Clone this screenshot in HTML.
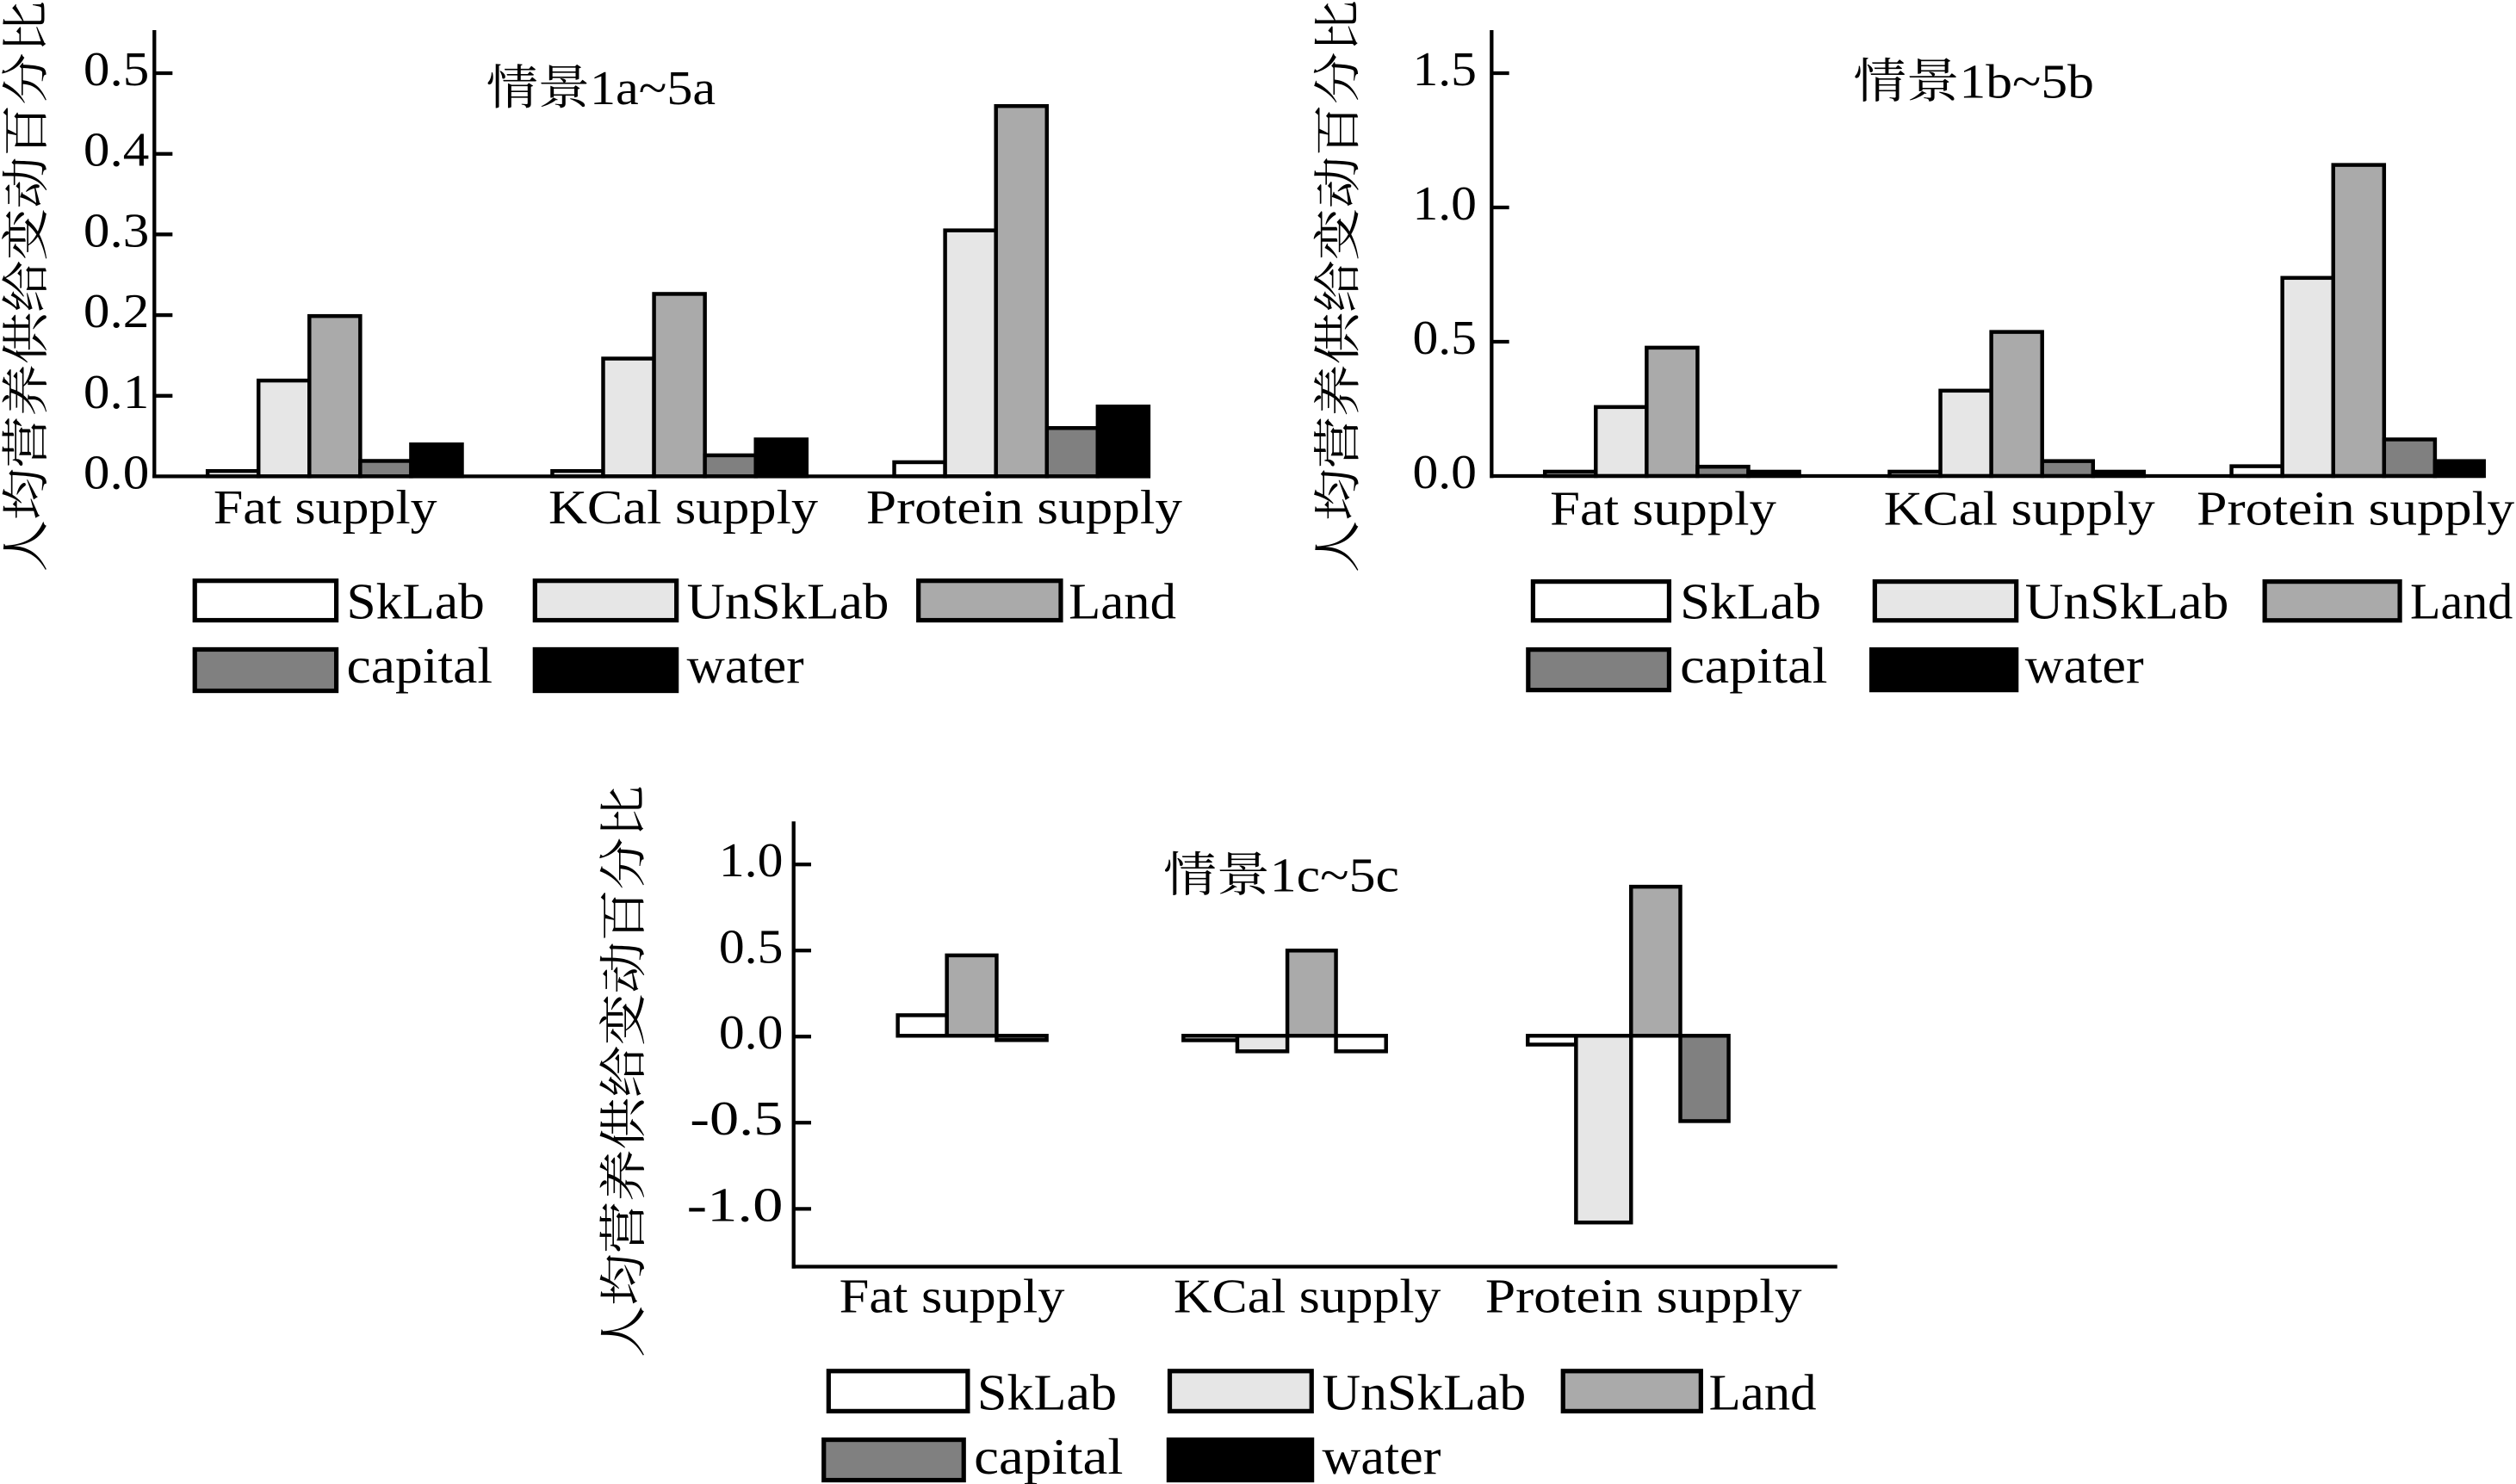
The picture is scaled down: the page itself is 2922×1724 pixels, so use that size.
<!DOCTYPE html>
<html><head><meta charset="utf-8"><style>
html,body{margin:0;padding:0;background:#fff;}
svg{display:block;}
text{font-family:"Liberation Serif","Noto Serif CJK SC",serif;fill:#000;}
.t{font-size:30px;}
.x{font-size:30px;}
.l{font-size:32px;}
.ti{font-size:30px;}
.yl{font-size:30px;font-family:"Noto Serif CJK SC","Liberation Serif",serif;}
.ax{stroke:#000;stroke-width:2.3;fill:none;}
.b rect{stroke:#000;stroke-width:2.4;}
.lg{stroke:#000;stroke-width:2.8;}
</style></head><body>
<svg width="2922" height="1724" viewBox="0 0 1568 925" preserveAspectRatio="none" xmlns="http://www.w3.org/2000/svg">
<rect x="0" y="0" width="1568" height="925" fill="#fff"/>

<!-- ============ Chart A ============ -->
<g class="b">
<rect x="129.4" y="293.6" width="31.7" height="3.3" fill="#fff"/>
<rect x="161.1" y="237.2" width="31.7" height="59.7" fill="#e6e6e6"/>
<rect x="192.8" y="197" width="31.7" height="99.9" fill="#aaa"/>
<rect x="224.5" y="287.3" width="31.7" height="9.6" fill="#808080"/>
<rect x="256.2" y="277" width="31.7" height="19.9" fill="#000"/>
<rect x="344.2" y="293.6" width="31.7" height="3.3" fill="#fff"/>
<rect x="375.9" y="223.5" width="31.7" height="73.4" fill="#e6e6e6"/>
<rect x="407.6" y="183.2" width="31.7" height="113.7" fill="#aaa"/>
<rect x="439.3" y="283.8" width="31.7" height="13.1" fill="#808080"/>
<rect x="471" y="273.9" width="31.7" height="23" fill="#000"/>
<rect x="557.3" y="288.1" width="31.7" height="8.8" fill="#fff"/>
<rect x="589" y="143.6" width="31.7" height="153.3" fill="#e6e6e6"/>
<rect x="620.7" y="66.1" width="31.7" height="230.8" fill="#aaa"/>
<rect x="652.4" y="266.8" width="31.7" height="30.1" fill="#808080"/>
<rect x="684.1" y="253.4" width="31.7" height="43.5" fill="#000"/>
</g>
<path class="ax" d="M96.2 18.8V298 M95 296.9H716 M96.2 45.6H107.5 M96.2 95.9H107.5 M96.2 146.1H107.5 M96.2 196.4H107.5 M96.2 246.7H107.5"/>
<g class="t" text-anchor="end">
<text x="93" y="53.1" textLength="41" lengthAdjust="spacingAndGlyphs">0.5</text>
<text x="93" y="103.4" textLength="41" lengthAdjust="spacingAndGlyphs">0.4</text>
<text x="93" y="153.6" textLength="41" lengthAdjust="spacingAndGlyphs">0.3</text>
<text x="93" y="203.9" textLength="41" lengthAdjust="spacingAndGlyphs">0.2</text>
<text x="93" y="254.2" textLength="41" lengthAdjust="spacingAndGlyphs">0.1</text>
<text x="93" y="304.4" textLength="41" lengthAdjust="spacingAndGlyphs">0.0</text>
</g>
<text class="ti" x="303" y="65" textLength="143" lengthAdjust="spacingAndGlyphs">情景1a~5a</text>
<text class="yl" transform="translate(26.6,356.5) rotate(-90)" textLength="356" lengthAdjust="spacingAndGlyphs">人均营养供给变动百分比</text>
<g class="x">
<text x="133" y="326.3" textLength="139.4" lengthAdjust="spacingAndGlyphs">Fat supply</text>
<text x="341.8" y="326.3" textLength="168" lengthAdjust="spacingAndGlyphs">KCal supply</text>
<text x="539.8" y="326.3" textLength="197" lengthAdjust="spacingAndGlyphs">Protein supply</text>
</g>
<rect class="lg" x="121.4" y="362" width="88.2" height="24.6" fill="#fff"/>
<rect class="lg" x="333.4" y="362" width="88.2" height="24.6" fill="#e6e6e6"/>
<rect class="lg" x="572.4" y="362" width="88.7" height="24.6" fill="#aaa"/>
<rect class="lg" x="121.4" y="404.8" width="88.2" height="25.8" fill="#808080"/>
<rect class="lg" x="333.4" y="404.8" width="88.2" height="25.8" fill="#000"/>
<g class="l">
<text x="216" y="385.5" textLength="86" lengthAdjust="spacingAndGlyphs">SkLab</text>
<text x="428" y="385.5" textLength="126" lengthAdjust="spacingAndGlyphs">UnSkLab</text>
<text x="666" y="385.5" textLength="67" lengthAdjust="spacingAndGlyphs">Land</text>
<text x="216" y="425.5" textLength="91" lengthAdjust="spacingAndGlyphs">capital</text>
<text x="428" y="425.5" textLength="73" lengthAdjust="spacingAndGlyphs">water</text>
</g>

<!-- ============ Chart B ============ -->
<g class="b">
<rect x="962.8" y="294" width="31.7" height="2.7" fill="#fff"/>
<rect x="994.5" y="253.7" width="31.7" height="43" fill="#e6e6e6"/>
<rect x="1026.2" y="216.7" width="31.7" height="80" fill="#aaa"/>
<rect x="1057.9" y="290.9" width="31.7" height="5.8" fill="#808080"/>
<rect x="1089.6" y="294" width="31.7" height="2.7" fill="#000"/>
<rect x="1177.6" y="294" width="31.7" height="2.7" fill="#fff"/>
<rect x="1209.3" y="243.5" width="31.7" height="53.2" fill="#e6e6e6"/>
<rect x="1241" y="206.9" width="31.7" height="89.8" fill="#aaa"/>
<rect x="1272.7" y="287.4" width="31.7" height="9.3" fill="#808080"/>
<rect x="1304.4" y="294" width="31.7" height="2.7" fill="#000"/>
<rect x="1390.7" y="290.6" width="31.7" height="6.1" fill="#fff"/>
<rect x="1422.4" y="173.2" width="31.7" height="123.5" fill="#e6e6e6"/>
<rect x="1454.1" y="102.8" width="31.7" height="193.9" fill="#aaa"/>
<rect x="1485.8" y="273.9" width="31.7" height="22.8" fill="#808080"/>
<rect x="1517.5" y="287.4" width="30.5" height="9.3" fill="#000"/>
</g>
<path class="ax" d="M929.6 18.8V298 M928.5 296.7H1548 M929.6 45.6H940.5 M929.6 129.3H940.5 M929.6 213H940.5"/>
<g class="t" text-anchor="end">
<text x="920.3" y="53.1" textLength="40" lengthAdjust="spacingAndGlyphs">1.5</text>
<text x="920.3" y="136.8" textLength="40" lengthAdjust="spacingAndGlyphs">1.0</text>
<text x="920.3" y="220.5" textLength="40" lengthAdjust="spacingAndGlyphs">0.5</text>
<text x="920.3" y="304.2" textLength="40" lengthAdjust="spacingAndGlyphs">0.0</text>
</g>
<text class="ti" x="1155" y="61" textLength="150" lengthAdjust="spacingAndGlyphs">情景1b~5b</text>
<text class="yl" transform="translate(844.1,357) rotate(-90)" textLength="357" lengthAdjust="spacingAndGlyphs">人均营养供给变动百分比</text>
<g class="x">
<text x="966" y="327" textLength="141" lengthAdjust="spacingAndGlyphs">Fat supply</text>
<text x="1174" y="327" textLength="169" lengthAdjust="spacingAndGlyphs">KCal supply</text>
<text x="1369" y="327" textLength="198" lengthAdjust="spacingAndGlyphs">Protein supply</text>
</g>
<rect class="lg" x="955.4" y="362.5" width="84.8" height="24.2" fill="#fff"/>
<rect class="lg" x="1168.4" y="362.5" width="88.2" height="24.2" fill="#e6e6e6"/>
<rect class="lg" x="1411.4" y="362.5" width="84.2" height="24.2" fill="#aaa"/>
<rect class="lg" x="952.4" y="404.9" width="87.8" height="25.2" fill="#808080"/>
<rect class="lg" x="1166.4" y="404.9" width="90.2" height="25.2" fill="#000"/>
<g class="l">
<text x="1047" y="385.5" textLength="88" lengthAdjust="spacingAndGlyphs">SkLab</text>
<text x="1262" y="385.5" textLength="127" lengthAdjust="spacingAndGlyphs">UnSkLab</text>
<text x="1502" y="385.5" textLength="64" lengthAdjust="spacingAndGlyphs">Land</text>
<text x="1047" y="425.5" textLength="92" lengthAdjust="spacingAndGlyphs">capital</text>
<text x="1262" y="425.5" textLength="74" lengthAdjust="spacingAndGlyphs">water</text>
</g>

<!-- ============ Chart C ============ -->
<g class="b">
<rect x="559.5" y="632.8" width="30.6" height="12.8" fill="#fff"/>
<rect x="590.1" y="595.5" width="31" height="50.1" fill="#aaa"/>
<rect x="621.1" y="645.6" width="31.2" height="2.7" fill="#808080"/>
<rect x="737.5" y="645.6" width="33.6" height="2.8" fill="#fff"/>
<rect x="771.1" y="645.6" width="31.2" height="9.7" fill="#e6e6e6"/>
<rect x="802.3" y="592.5" width="30.3" height="53.1" fill="#aaa"/>
<rect x="832.6" y="645.6" width="31.2" height="9.7" fill="#fff"/>
<rect x="952.1" y="645.6" width="30.1" height="5.5" fill="#fff"/>
<rect x="982.2" y="645.6" width="34.3" height="116.4" fill="#e6e6e6"/>
<rect x="1016.5" y="552.7" width="30.7" height="92.9" fill="#aaa"/>
<rect x="1047.2" y="645.6" width="30.1" height="53.2" fill="#808080"/>
</g>
<path class="ax" d="M494.6 512V790.7 M493.5 789.5H1145 M494.6 538.8H505.5 M494.6 592.5H505.5 M494.6 646.1H505.5 M494.6 699.8H505.5 M494.6 753.5H505.5"/>
<g class="t" text-anchor="end">
<text x="488" y="546.3" textLength="40" lengthAdjust="spacingAndGlyphs">1.0</text>
<text x="488" y="600" textLength="40" lengthAdjust="spacingAndGlyphs">0.5</text>
<text x="488" y="653.6" textLength="40" lengthAdjust="spacingAndGlyphs">0.0</text>
<text x="488" y="707.3" textLength="58" lengthAdjust="spacingAndGlyphs">-0.5</text>
<text x="488" y="761" textLength="60" lengthAdjust="spacingAndGlyphs">-1.0</text>
</g>
<text class="ti" x="725" y="555.5" textLength="147" lengthAdjust="spacingAndGlyphs">情景1c~5c</text>
<text class="yl" transform="translate(398.9,846.2) rotate(-90)" textLength="356.6" lengthAdjust="spacingAndGlyphs">人均营养供给变动百分比</text>
<g class="x">
<text x="523" y="818" textLength="140.5" lengthAdjust="spacingAndGlyphs">Fat supply</text>
<text x="731.4" y="818" textLength="166.6" lengthAdjust="spacingAndGlyphs">KCal supply</text>
<text x="925.6" y="818" textLength="197.3" lengthAdjust="spacingAndGlyphs">Protein supply</text>
</g>
<rect class="lg" x="516.4" y="854.6" width="86.7" height="25" fill="#fff"/>
<rect class="lg" x="729" y="854.6" width="88.4" height="25" fill="#e6e6e6"/>
<rect class="lg" x="974.1" y="854.6" width="85.9" height="25" fill="#aaa"/>
<rect class="lg" x="513.4" y="897.4" width="87.2" height="25.2" fill="#808080"/>
<rect class="lg" x="728.4" y="897.4" width="89.2" height="25.2" fill="#000"/>
<g class="l">
<text x="609" y="878.5" textLength="87" lengthAdjust="spacingAndGlyphs">SkLab</text>
<text x="824" y="878.5" textLength="127" lengthAdjust="spacingAndGlyphs">UnSkLab</text>
<text x="1065" y="878.5" textLength="67" lengthAdjust="spacingAndGlyphs">Land</text>
<text x="607" y="918.5" textLength="93" lengthAdjust="spacingAndGlyphs">capital</text>
<text x="824" y="918.5" textLength="74" lengthAdjust="spacingAndGlyphs">water</text>
</g>
</svg>
</body></html>
